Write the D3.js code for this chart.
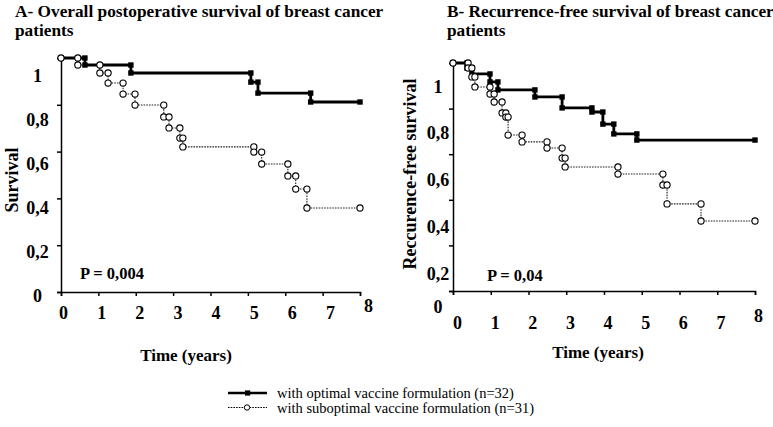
<!DOCTYPE html>
<html>
<head>
<meta charset="utf-8">
<script src="https://cdn.jsdelivr.net/npm/d3@7/dist/d3.min.js"></script>
<style>
  html, body { margin: 0; padding: 0; background: #fff; }
  svg { display: block; }
  text { font-family: "Liberation Serif", "Times New Roman", serif; fill: #000; }
</style>
</head>
<body>
<svg id="chart" width="773" height="427"></svg>
<script>
// ---------------- data ----------------
const timeTicks = [0, 1, 2, 3, 4, 5, 6, 7, 8];
const survTicks = [0, 0.2, 0.4, 0.6, 0.8, 1];
const survTickLabels = ["0", "0,2", "0,4", "0,6", "0,8", "1"];

// Panel A – overall survival (step time, survival after step; last = end of follow-up)
const aOptTime = [0, 0.64, 1.87, 5.08, 5.27, 6.68, 8.0];
const aOptSurv = [1, 0.970, 0.936, 0.897, 0.850, 0.812, 0.812];
const aSubTime = [0, 0.45, 1.04, 1.26, 1.66, 1.98, 2.75, 2.89, 3.18, 3.26, 5.16, 5.37, 6.07, 6.28, 6.58, 8.0];
const aSubSurv = [1, 0.970, 0.936, 0.893, 0.846, 0.799, 0.748, 0.701, 0.658, 0.620, 0.598, 0.547, 0.496, 0.440, 0.359, 0.359];

// Panel B – recurrence-free survival
const bOptTime = [0, 0.37, 0.50, 0.98, 1.19, 2.17, 2.89, 3.68, 3.97, 4.26, 4.87, 8.0];
const bOptSurv = [1, 0.978, 0.952, 0.917, 0.882, 0.851, 0.803, 0.785, 0.732, 0.689, 0.662, 0.662];
const bSubTime = [0, 0.40, 0.50, 0.58, 0.98, 1.09, 1.30, 1.40, 1.46, 1.83, 2.49, 2.89, 2.97, 4.37, 5.56, 5.67, 6.57, 8.0];
const bSubSurv = [1, 0.978, 0.939, 0.895, 0.864, 0.829, 0.781, 0.763, 0.684, 0.654, 0.627, 0.583, 0.544, 0.513, 0.465, 0.382, 0.307, 0.307];

const titlesA = ["A- Overall postoperative survival of breast cancer", "patients"];
const titlesB = ["B- Recurrence-free survival of breast cancer", "patients"];
const yTitleA = "Survival";
const yTitleB = "Reccurence-free survival";
const xTitle = "Time (years)";
const pValueA = "P = 0,004";
const pValueB = "P = 0,04";
const legendLabels = ["with optimal vaccine formulation (n=32)", "with suboptimal vaccine formulation (n=31)"];

// ---------------- drawing ----------------
const svg = d3.select("#chart");
const SERIF = '"Liberation Serif", "Times New Roman", serif';

function zip(t, s) { return t.map((d, i) => ({ t: d, s: s[i] })); }

function corners(data) {
  const pts = [{ t: data[0].t, s: data[0].s }];
  for (let i = 1; i < data.length - 1; i++) {
    pts.push({ t: data[i].t, s: data[i - 1].s });
    pts.push({ t: data[i].t, s: data[i].s });
  }
  const last = data[data.length - 1];
  pts.push({ t: last.t, s: last.s });
  return pts;
}

function panel(cfg) {
  const g = svg.append("g");
  const x = d3.scaleLinear().domain([0, 8]).range([cfg.x0, cfg.x1]);
  const y = d3.scaleLinear().domain([0, 1]).range([cfg.y0, cfg.y1]);

  // titles
  cfg.titles.forEach((t, i) => {
    g.append("text").attr("x", cfg.titleX).attr("y", 16.5 + i * 19)
      .attr("font-size", 17.3).attr("font-weight", "bold").text(t);
  });

  // axes
  const xAxis = d3.axisBottom(x).tickValues(timeTicks).tickSize(4).tickFormat("");
  g.append("g").attr("transform", `translate(0,${cfg.y0})`).call(xAxis)
    .call(s => s.selectAll("path,line").attr("stroke", "#000").attr("stroke-width", 1.5));
  const yAxis = d3.axisLeft(y).tickValues(survTicks).tickSize(4).tickFormat("");
  g.append("g").attr("transform", `translate(${cfg.x0},0)`).call(yAxis)
    .call(s => s.selectAll("path,line").attr("stroke", "#000").attr("stroke-width", 1.5));
  g.selectAll(".domain").attr("fill", "none");

  // tick labels (offset as in the original figure)
  const xl = d3.scaleLinear().domain([0, 8]).range(cfg.xLabelRange);
  const xLab = g.append("g").attr("transform", `translate(0,${cfg.xLabelY})`)
    .call(d3.axisBottom(xl).tickValues(timeTicks).tickSize(0).tickPadding(0).tickFormat(d3.format("d")));
  xLab.select(".domain").remove();
  xLab.selectAll("text").attr("font-size", 18).attr("font-weight", "bold")
    .attr("font-family", SERIF).attr("dy", 0)
    .attr("y", d => d === 8 ? -7 : 0);

  const yl = d3.scaleLinear().domain(cfg.yLabelDomain).range(cfg.yLabelRange);
  const yLab = g.append("g").attr("transform", `translate(${cfg.yLabelX},0)`)
    .call(d3.axisLeft(yl).tickValues(survTicks).tickSize(0).tickPadding(0)
      .tickFormat((d, i) => survTickLabels[i]));
  yLab.select(".domain").remove();
  yLab.selectAll("text").attr("font-size", 18).attr("font-weight", "bold")
    .attr("font-family", SERIF).attr("text-anchor", "middle").attr("dy", "0.34em");

  // axis titles
  g.append("text").attr("x", cfg.xTitleX).attr("y", cfg.xTitleY).attr("text-anchor", "middle")
    .attr("font-size", 17).attr("font-weight", "bold").text(xTitle);
  g.append("text").attr("transform", `translate(${cfg.yTitleX},${cfg.yTitleY}) rotate(-90)`)
    .attr("text-anchor", "middle").attr("font-size", 18).attr("font-weight", "bold").text(cfg.yTitle);

  // p-value
  g.append("text").attr("x", cfg.pX).attr("y", cfg.pY).attr("font-size", 16.5)
    .attr("font-weight", "bold").text(cfg.pText);

  const line = d3.line().x(d => x(d.t)).y(d => y(d.s)).curve(d3.curveStepAfter);

  // suboptimal (dotted, open circles)
  const sub = zip(cfg.subT, cfg.subS);
  g.append("path").datum(sub).attr("d", line).attr("fill", "none")
    .attr("stroke", "#222").attr("stroke-width", 1.1).attr("stroke-dasharray", "1.6,1.1");
  // optimal (thick, filled squares)
  const opt = zip(cfg.optT, cfg.optS);
  g.append("path").datum(opt).attr("d", line).attr("fill", "none")
    .attr("stroke", "#000").attr("stroke-width", 2.8);

  g.selectAll(".sq").data(corners(opt)).join("rect")
    .attr("x", d => x(d.t) - 2.7).attr("y", d => y(d.s) - 2.7)
    .attr("width", 5.4).attr("height", 5.4).attr("fill", "#000");
  g.selectAll(".ci").data(corners(sub)).join("circle")
    .attr("cx", d => x(d.t)).attr("cy", d => y(d.s)).attr("r", 3.1)
    .attr("fill", "#fff").attr("stroke", "#000").attr("stroke-width", 1.1);
}

panel({
  x0: 61, x1: 360, y0: 292, y1: 58,
  titleX: 15, titles: titlesA,
  xLabelRange: [63, 368], xLabelY: 319,
  yLabelDomain: [0, 1], yLabelRange: [295, 75], yLabelX: 37.5,
  xTitleX: 186, xTitleY: 361,
  yTitle: yTitleA, yTitleX: 18, yTitleY: 180,
  pText: pValueA, pX: 80, pY: 279,
  optT: aOptTime, optS: aOptSurv, subT: aSubTime, subS: aSubSurv
});

panel({
  x0: 453, x1: 755, y0: 291, y1: 63,
  titleX: 447, titles: titlesB,
  xLabelRange: [457, 758], xLabelY: 329,
  yLabelDomain: [0, 0.2, 1], yLabelRange: [306, 273, 86], yLabelX: 438,
  xTitleX: 598, xTitleY: 358,
  yTitle: yTitleB, yTitleX: 416, yTitleY: 174,
  pText: pValueB, pX: 487, pY: 281,
  optT: bOptTime, optS: bOptSurv, subT: bSubTime, subS: bSubSurv
});

// legend
const lg = svg.append("g");
const legendStyles = [
  { dash: null, w: 2.6, marker: "square" },
  { dash: "1.6,1.1", w: 1.1, marker: "circle" }
];
legendLabels.forEach((lab, i) => {
  const yy = 393 + i * 14.5;
  const st = legendStyles[i];
  lg.append("line").attr("x1", 228).attr("x2", 267).attr("y1", yy).attr("y2", yy)
    .attr("stroke", "#000").attr("stroke-width", st.w).attr("stroke-dasharray", st.dash);
  if (st.marker === "square") {
    lg.append("rect").attr("x", 245).attr("y", yy - 2.6).attr("width", 5.2).attr("height", 5.2).attr("fill", "#000");
  } else {
    lg.append("circle").attr("cx", 247).attr("cy", yy).attr("r", 2.7)
      .attr("fill", "#fff").attr("stroke", "#000").attr("stroke-width", 1);
  }
  lg.append("text").attr("x", 277).attr("y", yy + 5).attr("font-size", 14.5).text(lab);
});
</script>
</body>
</html>
